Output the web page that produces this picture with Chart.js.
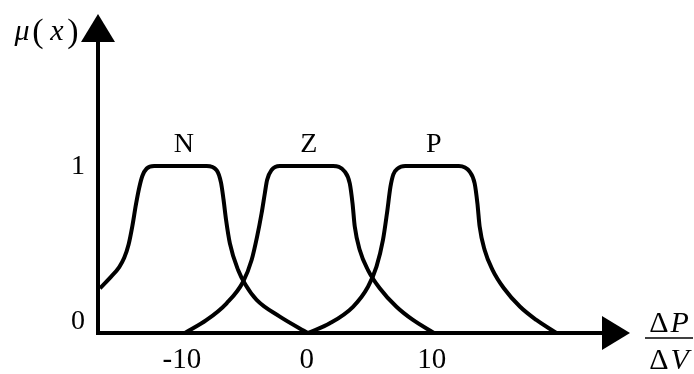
<!DOCTYPE html>
<html>
<head>
<meta charset="utf-8">
<script src="https://cdn.jsdelivr.net/npm/chart.js@4/dist/chart.umd.min.js"></script>
<style>
html, body { margin: 0; padding: 0; background: #fff; }
</style>
</head>
<body>
<canvas id="mfChart" width="694" height="374"></canvas>
<script>
// Membership curves for the fuzzy sets N, Z, P over dP/dV
const curveN = [
    { x: -16.64, y: 0.268 }, { x: -15.84, y: 0.33 }, { x: -15.1, y: 0.395 },
    { x: -14.7, y: 0.45 }, { x: -14.35, y: 0.53 }, { x: -14.05, y: 0.64 },
    { x: -13.76, y: 0.77 }, { x: -13.5, y: 0.87 }, { x: -13.25, y: 0.94 },
    { x: -12.9, y: 0.985 }, { x: -12.3, y: 1 }, { x: -8.1, y: 1 },
    { x: -7.3, y: 0.975 }, { x: -6.95, y: 0.90 }, { x: -6.75, y: 0.80 },
    { x: -6.55, y: 0.68 }, { x: -6.24, y: 0.537 }, { x: -5.58, y: 0.377 },
    { x: -5.0, y: 0.29 }, { x: -4.1, y: 0.198 }, { x: -2.24, y: 0.098 },
    { x: 0, y: 0 }
];
const curveZ = [
    { x: -9.84, y: 0 }, { x: -8.1, y: 0.078 }, { x: -6.5, y: 0.178 },
    { x: -5.18, y: 0.307 }, { x: -4.5, y: 0.437 }, { x: -4.06, y: 0.577 },
    { x: -3.7, y: 0.717 }, { x: -3.44, y: 0.837 }, { x: -3.26, y: 0.916 },
    { x: -2.9, y: 0.976 }, { x: -2.24, y: 1 }, { x: 2.02, y: 1 },
    { x: 2.96, y: 0.966 }, { x: 3.36, y: 0.896 }, { x: 3.58, y: 0.777 },
    { x: 3.76, y: 0.637 }, { x: 4.16, y: 0.497 }, { x: 4.82, y: 0.377 },
    { x: 5.76, y: 0.268 }, { x: 7.1, y: 0.157 }, { x: 8.42, y: 0.078 },
    { x: 10.1, y: 0 }
];
const curveP = [
    { x: 0, y: 0 }, { x: 1.76, y: 0.058 }, { x: 3.62, y: 0.157 },
    { x: 4.82, y: 0.277 }, { x: 5.5, y: 0.397 }, { x: 6.02, y: 0.557 },
    { x: 6.34, y: 0.717 }, { x: 6.62, y: 0.876 }, { x: 6.85, y: 0.95 },
    { x: 7.2, y: 0.985 }, { x: 7.8, y: 1 }, { x: 12.1, y: 1 },
    { x: 12.96, y: 0.966 }, { x: 13.36, y: 0.896 }, { x: 13.58, y: 0.777 },
    { x: 13.76, y: 0.637 }, { x: 14.16, y: 0.497 }, { x: 14.8, y: 0.377 },
    { x: 15.7, y: 0.268 }, { x: 17.0, y: 0.157 }, { x: 18.3, y: 0.078 },
    { x: 19.9, y: 0 }
];

const setNames = ['N', 'Z', 'P'];
const setCenters = [-10, 0, 10];
const tickValues = [-10, 0, 10];
const tickLabels = ['-10', '0', '10'];
const levelValues = [0, 1];
const levelLabels = ['0', '1'];

const serif = '"Liberation Serif", "Times New Roman", Times, serif';

// Axes with arrow heads, tick labels, set names and axis titles
const axisDecor = {
    id: 'axisDecor',
    afterDatasetsDraw(chart) {
        const { ctx, chartArea, scales } = chart;
        const x0 = scales.x.getPixelForValue(scales.x.min);
        const y0 = scales.y.getPixelForValue(0);
        const head = 28, half = 17;

        ctx.save();
        ctx.fillStyle = '#000';
        ctx.strokeStyle = '#000';
        ctx.lineWidth = 4;

        // y axis
        ctx.beginPath();
        ctx.moveTo(x0, y0 + 2);
        ctx.lineTo(x0, chartArea.top + head);
        ctx.stroke();
        ctx.beginPath();
        ctx.moveTo(x0, chartArea.top);
        ctx.lineTo(x0 - half, chartArea.top + head);
        ctx.lineTo(x0 + half, chartArea.top + head);
        ctx.closePath();
        ctx.fill();

        // x axis
        ctx.beginPath();
        ctx.moveTo(x0 - 2, y0);
        ctx.lineTo(chartArea.right - head, y0);
        ctx.stroke();
        ctx.beginPath();
        ctx.moveTo(chartArea.right, y0);
        ctx.lineTo(chartArea.right - head, y0 - half);
        ctx.lineTo(chartArea.right - head, y0 + half);
        ctx.closePath();
        ctx.fill();

        // x tick labels
        ctx.font = '29px ' + serif;
        ctx.textAlign = 'center';
        ctx.textBaseline = 'middle';
        tickValues.forEach((v, i) => {
            ctx.fillText(tickLabels[i], scales.x.getPixelForValue(v) - 1, y0 + 27);
        });

        // y level labels
        ctx.font = '28px ' + serif;
        levelValues.forEach((v, i) => {
            const py = scales.y.getPixelForValue(v) - (v === 0 ? 11 : -1);
            ctx.fillText(levelLabels[i], 78, py);
        });

        // set names above each plateau
        setNames.forEach((name, i) => {
            ctx.fillText(name, scales.x.getPixelForValue(setCenters[i]) + 1, 145);
        });

        // mu(x), glyphs spaced out like an equation
        ctx.textAlign = 'center';
        ctx.textBaseline = 'alphabetic';
        ctx.font = 'italic 30px ' + serif;
        ctx.fillText('\u03bc', 22, 40);
        ctx.fillText('x', 57, 40);
        ctx.font = '34px ' + serif;
        ctx.fillText('(', 38, 42);
        ctx.fillText(')', 73, 42);

        // dP / dV fraction
        const fx = 669;
        const drawDelta = (letter, baseY) => {
            ctx.font = '30px ' + serif;
            const w1 = ctx.measureText('\u0394').width + 2;
            ctx.font = 'italic 30px ' + serif;
            const w2 = ctx.measureText(letter).width;
            const start = fx - (w1 + w2) / 2;
            ctx.textAlign = 'left';
            ctx.font = '30px ' + serif;
            ctx.fillText('\u0394', start, baseY);
            ctx.font = 'italic 30px ' + serif;
            ctx.fillText(letter, start + w1, baseY);
        };
        drawDelta('P', 332);
        ctx.lineWidth = 1.5;
        ctx.beginPath();
        ctx.moveTo(645, 338);
        ctx.lineTo(693, 338);
        ctx.stroke();
        drawDelta('V', 369);

        ctx.restore();
    }
};

const lineStyle = {
    borderColor: '#000',
    borderWidth: 4,
    pointRadius: 0,
    fill: false,
    cubicInterpolationMode: 'monotone',
    clip: false
};

function drawChart() {
    const ctx = document.getElementById('mfChart').getContext('2d');
    return new Chart(ctx, {
        type: 'line',
        data: {
            datasets: [
                { label: 'N', data: curveN, ...lineStyle },
                { label: 'Z', data: curveZ, ...lineStyle },
                { label: 'P', data: curveP, ...lineStyle }
            ]
        },
        options: {
            responsive: false,
            animation: false,
            devicePixelRatio: 1,
            layout: { padding: { left: 98, top: 14, right: 64, bottom: 41 } },
            plugins: {
                legend: { display: false },
                tooltip: { enabled: false }
            },
            scales: {
                x: { type: 'linear', min: -16.8, max: 25.8, display: false },
                y: { min: 0, max: 1.91, display: false }
            }
        },
        plugins: [axisDecor]
    });
}

// make sure the serif face is ready before text goes onto the canvas
document.fonts.load('28px "Liberation Serif"').then(drawChart, drawChart);
</script>
</body>
</html>
